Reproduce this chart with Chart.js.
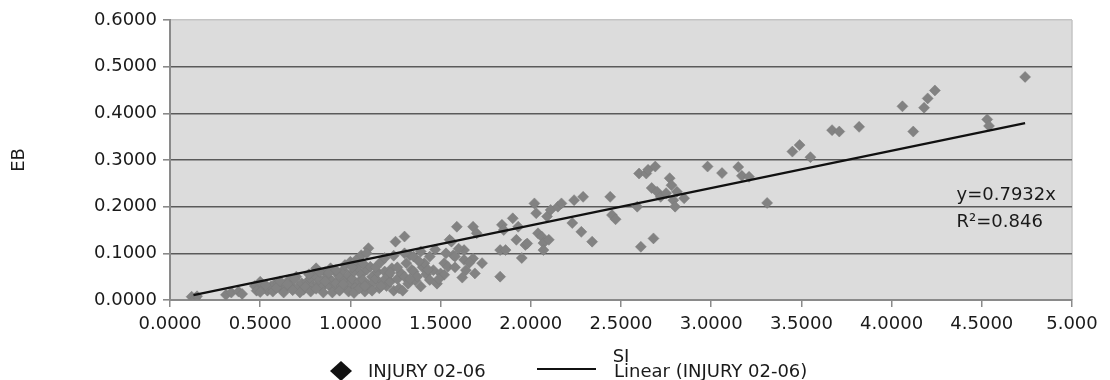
<!DOCTYPE html>
<html>
<head>
<meta charset="utf-8">
<script src="https://cdn.jsdelivr.net/npm/chart.js@4/dist/chart.umd.min.js"></script>
<style>
    body { margin: 0; background: #fff; }
    #wrap { width: 1110px; height: 380px; }
</style>
</head>
<body>
<div id="wrap"><canvas id="scatterChart" width="1110" height="380"></canvas></div>
<script>
// valores
const siValues = [
    0.12, 0.14, 0.15, 0.31, 0.34, 0.38, 0.40, 0.47, 0.50, 0.52, 0.54, 0.56, 0.58, 0.60, 0.62, 0.64,
    0.66, 0.67, 0.70, 0.71, 0.73, 0.74, 0.76, 0.78, 0.79, 0.80, 0.81, 0.82, 0.83, 0.84, 0.86, 0.87,
    0.88, 0.89, 0.90, 0.91, 0.92, 0.93, 0.94, 0.95, 0.96, 0.97, 0.98, 0.99, 1.00, 1.00, 1.01, 1.02,
    1.03, 1.04, 1.05, 1.06, 1.06, 1.07, 1.08, 1.09, 1.10, 1.10, 1.11, 1.12, 1.13, 1.14, 1.15, 1.16,
    1.17, 1.18, 1.19, 1.20, 1.21, 1.22, 1.23, 1.24, 1.25, 1.26, 1.27, 1.28, 1.30, 1.30, 1.31, 1.32,
    1.33, 1.34, 1.35, 1.35, 1.36, 1.37, 1.39, 1.39, 1.40, 1.41, 1.42, 1.44, 1.44, 1.46, 1.48, 1.50,
    1.52, 1.52, 1.54, 1.55, 1.56, 1.57, 1.58, 1.59, 1.62, 1.63, 1.63, 1.64, 1.68, 1.68, 1.69, 1.70,
    1.73, 1.83, 1.83, 1.84, 1.85, 1.86, 1.90, 1.92, 1.93, 1.95, 1.97, 1.98, 2.02, 2.03, 2.04, 2.06,
    2.07, 2.07, 2.09, 2.10, 2.11, 2.15, 2.17, 2.23, 2.24, 2.28, 2.29, 2.34, 2.44, 2.45, 2.47, 2.59,
    2.60, 2.61, 2.64, 2.65, 2.67, 2.68, 2.69, 2.70, 2.72, 2.75, 2.77, 2.78, 2.79, 2.80, 2.81, 2.85,
    2.98, 3.06, 3.15, 3.17, 3.21, 3.31, 3.45, 3.49, 3.55, 3.67, 3.71, 3.82, 4.06, 4.12, 4.18, 4.20,
    4.24, 4.53, 4.54, 4.74,
    0.48, 0.50, 0.53, 0.57, 0.59, 0.61, 0.63, 0.65, 0.68, 0.69, 0.72, 0.75, 0.77, 0.78, 0.81, 0.83,
    0.85, 0.86, 0.88, 0.90, 0.92, 0.94, 0.96, 0.97, 0.99, 1.01, 1.02, 1.03, 1.05, 1.07, 1.08, 1.09,
    1.12, 1.14, 1.17, 1.19, 1.22, 1.24, 1.26, 1.29, 1.30, 1.33, 1.38, 1.43, 1.47, 1.49, 1.53, 1.58,
    1.60, 1.66
];
const ebValues = [
    0.007, 0.004, 0.008, 0.011, 0.016, 0.018, 0.013, 0.030, 0.039, 0.025, 0.020, 0.029, 0.034, 0.036, 0.022, 0.025,
    0.043, 0.030, 0.050, 0.028, 0.036, 0.022, 0.039, 0.045, 0.030, 0.054, 0.068, 0.036, 0.043, 0.026, 0.060, 0.050,
    0.032, 0.068, 0.040, 0.022, 0.036, 0.055, 0.050, 0.030, 0.064, 0.043, 0.025, 0.052, 0.082, 0.035, 0.045, 0.061,
    0.028, 0.070, 0.040, 0.096, 0.055, 0.043, 0.018, 0.065, 0.111, 0.032, 0.071, 0.050, 0.038, 0.046, 0.060, 0.025,
    0.082, 0.040, 0.061, 0.030, 0.052, 0.039, 0.068, 0.020, 0.125, 0.045, 0.025, 0.058, 0.136, 0.050, 0.079, 0.035,
    0.096, 0.065, 0.061, 0.093, 0.042, 0.050, 0.104, 0.029, 0.070, 0.079, 0.055, 0.093, 0.043, 0.064, 0.035, 0.057,
    0.079, 0.054, 0.071, 0.129, 0.125, 0.096, 0.093, 0.157, 0.048, 0.107, 0.086, 0.064, 0.157, 0.089, 0.057, 0.143,
    0.079, 0.107, 0.050, 0.161, 0.150, 0.107, 0.175, 0.129, 0.157, 0.090, 0.118, 0.121, 0.207, 0.186, 0.143, 0.136,
    0.122, 0.107, 0.179, 0.129, 0.193, 0.200, 0.207, 0.165, 0.214, 0.146, 0.221, 0.125, 0.221, 0.182, 0.173, 0.200,
    0.271, 0.114, 0.271, 0.279, 0.240, 0.132, 0.286, 0.232, 0.221, 0.229, 0.261, 0.246, 0.214, 0.200, 0.232, 0.218,
    0.286, 0.272, 0.285, 0.266, 0.264, 0.208, 0.318, 0.332, 0.306, 0.364, 0.361, 0.371, 0.415, 0.361, 0.412, 0.432,
    0.449, 0.387, 0.373, 0.478,
    0.020, 0.017, 0.032, 0.018, 0.026, 0.040, 0.016, 0.034, 0.021, 0.045, 0.016, 0.028, 0.055, 0.018, 0.024, 0.060,
    0.016, 0.040, 0.058, 0.016, 0.064, 0.020, 0.034, 0.075, 0.018, 0.070, 0.015, 0.085, 0.025, 0.078, 0.030, 0.100,
    0.020, 0.070, 0.030, 0.090, 0.058, 0.095, 0.070, 0.020, 0.100, 0.045, 0.083, 0.065, 0.108, 0.045, 0.100, 0.070,
    0.110, 0.080
];
const trendSI = [0.13, 4.74];
const trendEB = [0.0105, 0.379];
const xTickLabels = ['0.0000', '0.5000', '1.0000', '1.5000', '2.0000', '2.5000', '3.0000', '3.5000', '4.0000', '4.5000', '5.000'];
const yTickLabels = ['0.0000', '0.1000', '0.2000', '0.3000', '0.4000', '0.5000', '0.6000'];
const seriesName = 'INJURY 02-06';
const trendName = 'Linear (INJURY 02-06)';
const equationLines = ['y=0.7932x', 'R\u00b2=0.846'];

const FONT = 'DejaVu Sans';

// fondo gris del area de trazado + borde derecho
const plotBackground = {
    id: 'plotBackground',
    beforeDraw(chart) {
        const { ctx, chartArea: a } = chart;
        ctx.save();
        ctx.fillStyle = '#fff';
        ctx.fillRect(0, 0, chart.width, chart.height);
        ctx.fillStyle = '#dcdcdc';
        ctx.fillRect(a.left, a.top, a.right - a.left, a.bottom - a.top);
        ctx.strokeStyle = '#c4c4c4';
        ctx.lineWidth = 1.5;
        ctx.beginPath();
        ctx.moveTo(a.right, a.top);
        ctx.lineTo(a.right, a.bottom);
        ctx.stroke();
        ctx.restore();
    }
};

// leyenda y ecuacion como en Excel
const excelExtras = {
    id: 'excelExtras',
    afterDraw(chart) {
        const { ctx } = chart;
        const x = chart.scales.x, y = chart.scales.y;
        ctx.save();
        ctx.font = `18px "${FONT}"`;
        ctx.fillStyle = '#1a1a1a';
        ctx.textBaseline = 'middle';

        // ecuacion
        const ex = x.getPixelForValue(4.36);
        ctx.fillText(equationLines[0], ex, y.getPixelForValue(0.225));
        ctx.fillText(equationLines[1], ex, y.getPixelForValue(0.166));

        // leyenda
        const ly = 371;
        ctx.fillStyle = '#111';
        ctx.beginPath();
        ctx.moveTo(341, ly - 10);
        ctx.lineTo(352, ly);
        ctx.lineTo(341, ly + 10);
        ctx.lineTo(330, ly);
        ctx.closePath();
        ctx.fill();
        ctx.fillStyle = '#1a1a1a';
        ctx.fillText(seriesName, 368, ly + 1);

        ctx.strokeStyle = '#111';
        ctx.lineWidth = 2;
        ctx.beginPath();
        ctx.moveTo(537, ly - 2);
        ctx.lineTo(596, ly - 2);
        ctx.stroke();
        ctx.fillText(trendName, 614, ly + 1);
        ctx.restore();
    }
};

function buildChart() {
    const ctx = document.getElementById('scatterChart').getContext('2d');
    const points = siValues.map((s, i) => ({ x: s, y: ebValues[i] }));
    const trend = trendSI.map((s, i) => ({ x: s, y: trendEB[i] }));

    new Chart(ctx, {
        type: 'scatter',
        data: {
            datasets: [
                {
                    type: 'line',
                    label: trendName,
                    data: trend,
                    borderColor: '#111',
                    borderWidth: 2.2,
                    pointRadius: 0,
                    fill: false,
                    order: 0
                },
                {
                    label: seriesName,
                    data: points,
                    pointStyle: 'rectRot',
                    pointRadius: 5.5,
                    backgroundColor: '#828282',
                    borderColor: '#7a7a7a',
                    borderWidth: 0.5,
                    order: 1
                }
            ]
        },
        options: {
            responsive: false,
            animation: false,
            layout: { padding: { top: 20, right: 38, left: 0, bottom: 0 } },
            plugins: {
                legend: { display: false },
                tooltip: { enabled: false }
            },
            scales: {
                x: {
                    type: 'linear',
                    min: 0,
                    max: 5,
                    afterFit(scale) { scale.height = 80; },
                    afterBuildTicks(scale) {
                        scale.ticks = xTickLabels.map((_, i) => ({ value: i * 0.5 }));
                    },
                    ticks: {
                        autoSkip: false,
                        maxRotation: 0,
                        padding: 7,
                        color: '#1a1a1a',
                        font: { family: FONT, size: 18 },
                        callback: (v, i) => xTickLabels[i]
                    },
                    grid: {
                        drawOnChartArea: false,
                        drawTicks: true,
                        tickLength: 7,
                        tickColor: '#8a8a8a',
                        lineWidth: 1.5
                    },
                    border: { color: '#8a8a8a', width: 2 },
                    title: {
                        display: true,
                        text: 'SI',
                        color: '#1a1a1a',
                        font: { family: FONT, size: 18 },
                        padding: { top: 0, bottom: 12 }
                    }
                },
                y: {
                    type: 'linear',
                    min: 0,
                    max: 0.6,
                    afterFit(scale) { scale.width = 170; },
                    afterBuildTicks(scale) {
                        scale.ticks = yTickLabels.map((_, i) => ({ value: i / 10 }));
                    },
                    ticks: {
                        padding: 6,
                        color: '#1a1a1a',
                        font: { family: FONT, size: 18 },
                        callback: (v, i) => yTickLabels[i]
                    },
                    grid: {
                        color: c => (c.tick && c.tick.value > 0.55 ? '#c4c4c4' : '#5a5a5a'),
                        lineWidth: 1.6,
                        tickLength: 7,
                        tickColor: '#8a8a8a'
                    },
                    border: { color: '#8a8a8a', width: 2 },
                    title: {
                        display: true,
                        text: 'EB',
                        color: '#1a1a1a',
                        font: { family: FONT, size: 18 },
                        padding: { top: 9, bottom: 0 }
                    }
                }
            }
        },
        plugins: [plotBackground, excelExtras]
    });
}

document.addEventListener('DOMContentLoaded', buildChart);
</script>
</body>
</html>
